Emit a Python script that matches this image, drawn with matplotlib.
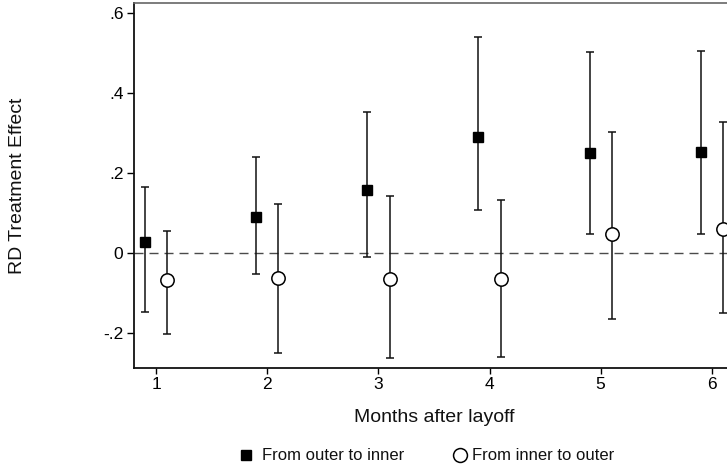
import matplotlib
matplotlib.use("Agg")
import matplotlib.pyplot as plt
from matplotlib.lines import Line2D
import numpy as np

plt.rcParams['font.family'] = ['Liberation Sans', 'DejaVu Sans']

months = [1, 2, 3, 4, 5, 6]
outer_est = [0.028, 0.091, 0.157, 0.290, 0.251, 0.253]
outer_lo = [-0.148, -0.053, -0.010, 0.108, 0.048, 0.047]
outer_hi = [0.166, 0.240, 0.352, 0.540, 0.502, 0.506]
inner_est = [-0.067, -0.063, -0.065, -0.064, 0.047, 0.060]
inner_lo = [-0.202, -0.249, -0.262, -0.261, -0.165, -0.149]
inner_hi = [0.055, 0.123, 0.142, 0.133, 0.303, 0.327]
yticks = [-0.2, 0, 0.2, 0.4, 0.6]
ytick_labels = ['-.2', '0', '.2', '.4', '.6']
series_labels = ['From outer to inner', 'From inner to outer']

W, H = 727, 471
fig = plt.figure(figsize=(W/100, H/100), dpi=100)
ax = fig.add_axes([134/W, 1-368/H, 600/W, 365/H])

m = np.array(months, dtype=float)
oe = np.array(outer_est); ie = np.array(inner_est)
ax.axhline(0, color='#4a4a4a', lw=1.0, dashes=(6.5, 4.3), zorder=1)

ax.errorbar(m - 0.1, oe, yerr=[oe - np.array(outer_lo), np.array(outer_hi) - oe],
            fmt='s', color='#111111', ms=7.3, mfc='black', mec='black',
            elinewidth=1.1, capsize=3, capthick=1.1, zorder=3)
ax.errorbar(m + 0.1, ie, yerr=[ie - np.array(inner_lo), np.array(inner_hi) - ie],
            fmt='o', color='#111111', ms=9.6, mfc='white', mec='black', mew=1.1,
            elinewidth=1.1, capsize=3, capthick=1.1, zorder=3)

ax.set_xlim(0.8, 6.2)
ax.set_ylim(-0.2875, 0.625)
ax.set_xticks(months)
ax.set_xticklabels([str(v) for v in months])
ax.set_yticks(yticks)
ax.set_yticklabels(ytick_labels)
ax.tick_params(axis='x', direction='out', length=4.3, width=1, labelsize=12.5, colors='black', pad=2)
ax.tick_params(axis='y', direction='out', length=4.8, width=1, labelsize=12.5, colors='black', pad=2.8)
for s in ['left', 'bottom']:
    ax.spines[s].set_linewidth(1.3)
    ax.spines[s].set_color('#111111')
ax.spines['top'].set_color('#666666')
ax.spines['top'].set_linewidth(1.2)
ax.spines['right'].set_visible(False)

fig.text(18/W, 1-185.5/H, 'RD Treatment Effect', rotation=90, ha='center', va='center',
         fontsize=14, color='#111111')
fig.text(434/W, 1-422/H, 'Months after layoff', ha='center', va='baseline',
         fontsize=14, color='#111111')

# legend
ly = 1 - 455/H
fig.add_artist(Line2D([246/W], [ly], transform=fig.transFigure, marker='s', ls='none',
                      color='black', ms=6.6))
fig.add_artist(Line2D([460/W], [ly], transform=fig.transFigure, marker='o', ls='none',
                      mfc='white', mec='black', mew=1.1, ms=10))
fig.text(262/W, ly, series_labels[0], ha='left', va='center', fontsize=12, color='#111111')
fig.text(472/W, ly, series_labels[1], ha='left', va='center', fontsize=12, color='#111111')

fig.savefig('out.png', dpi=100)
